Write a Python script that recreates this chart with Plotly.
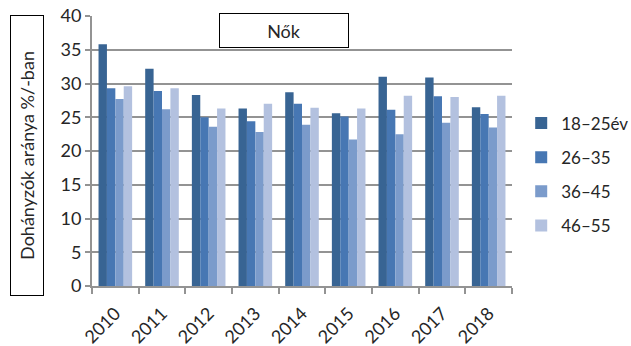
import plotly.graph_objects as go

# Smoking rate among women by age group, 2010–2018 (%)
years = ["2010", "2011", "2012", "2013", "2014", "2015", "2016", "2017", "2018"]
age_groups = ["18–25év", "26–35", "36–45", "46–55"]
rate_18_25 = [35.8, 32.2, 28.3, 26.3, 28.7, 25.6, 31.0, 30.9, 26.5]
rate_26_35 = [29.3, 28.9, 25.0, 24.4, 27.0, 25.1, 26.1, 28.1, 25.5]
rate_36_45 = [27.7, 26.2, 23.6, 22.8, 23.9, 21.7, 22.5, 24.2, 23.5]
rate_46_55 = [29.6, 29.3, 26.3, 27.0, 26.4, 26.3, 28.2, 28.0, 28.2]
y_ticks = [0, 5, 10, 15, 20, 25, 30, 35, 40]

series = [rate_18_25, rate_26_35, rate_36_45, rate_46_55]
colors = ["#386493", "#4777B3", "#7B9BCB", "#B3C1DF"]

FONT = "Lato, 'Open Sans', sans-serif"
TEXT = "#262626"
GRID = "#939393"

fig = go.Figure()
for i, (name, vals) in enumerate(zip(age_groups, series)):
    fig.add_trace(go.Bar(
        x=years, y=vals, name=name,
        marker=dict(color=colors[i], line=dict(width=0)),
        legendgroup=f"g{i}",
    ))

fig.update_layout(
    width=631, height=346,
    margin=dict(l=92, r=119, t=16, b=60, autoexpand=False),
    paper_bgcolor="white", plot_bgcolor="white",
    barmode="group", bargap=0.28, bargroupgap=0,
    font=dict(family=FONT, size=17, color=TEXT),
    showlegend=True,
    legend=dict(
        xref="container", yref="container",
        x=0.826, xanchor="left", y=0.695, yanchor="top",
        font=dict(size=17, color=TEXT),
        traceorder="grouped", tracegroupgap=9,
        bgcolor="rgba(0,0,0,0)", borderwidth=0,
    ),
    xaxis=dict(
        type="category", tickson="boundaries", automargin=False,
        showgrid=False, showline=True, linecolor=GRID, linewidth=2,
        ticks="outside", ticklen=6, tickcolor=GRID, tickwidth=2,
        tickangle=-45, tickfont=dict(size=18, color=TEXT),
        ticklabelstandoff=8,
    ),
    yaxis=dict(
        range=[0, 40], tickvals=y_ticks, automargin=False,
        showgrid=True, gridcolor=GRID, gridwidth=2,
        showline=True, linecolor=GRID, linewidth=2,
        ticks="outside", ticklen=5, tickcolor=GRID, tickwidth=2,
        tickfont=dict(size=18, color=TEXT),
        zeroline=False,
    ),
)

# Rotated, boxed y-axis title
fig.add_annotation(
    xref="paper", yref="paper", x=0, y=0.5,
    xshift=-82, yshift=-5,
    text="Dohányzók aránya %/-ban", textangle=-90,
    showarrow=False, font=dict(size=18, color=TEXT),
    bordercolor="#000000", borderwidth=1, borderpad=0,
    bgcolor="white", width=279, height=32,
)

# Boxed panel label
fig.add_annotation(
    xref="paper", yref="paper", x=(284 - 92) / 420, y=1,
    yanchor="top", yshift=3,
    text="Nők", showarrow=False, font=dict(size=18, color=TEXT),
    bordercolor="#000000", borderwidth=1, borderpad=0,
    bgcolor="white", width=128, height=33,
)

fig.write_html("out.html")
